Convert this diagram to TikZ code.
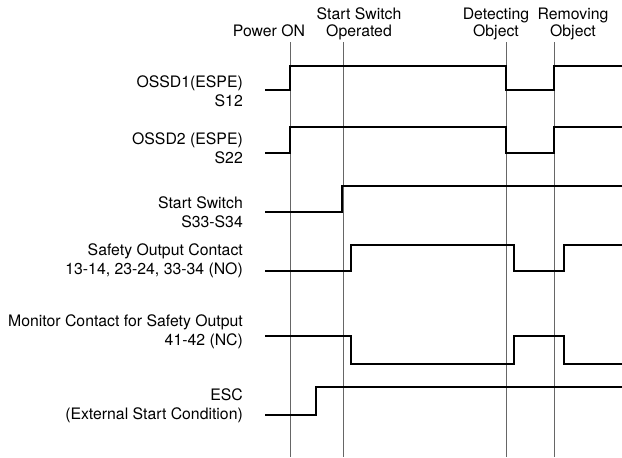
\documentclass[tikz,border=0pt]{standalone}
\usepackage{fontspec}
\setmainfont{TeX Gyre Heros}
\usepackage{tikz}
\usetikzlibrary{positioning,calc}
\tikzset{
  td/label/.style={anchor=east, align=right, inner sep=0pt, font=\fontsize{15.8}{19}\selectfont},
  td/event/.style={align=center, inner sep=0pt, font=\fontsize{15.8}{17}\selectfont},
  td/marker/.style={draw=black!60, line width=0.9pt},
  td/wave/.style={draw=black, line width=2.3pt, line join=miter}
}
\begin{document}
\begin{tikzpicture}[x=1pt, y=-1pt]
  \useasboundingbox (0,0) rectangle (622,458);
  % event markers
  \node[td/event, anchor=base] (pon) at (269,36.7) {Power ON};
  \node[td/event, anchor=base] (swop) at (359,36.7) {Start Switch\\Operated};
  \node[td/event, anchor=base] (det) at (496,36.7) {Detecting\\Object};
  \node[td/event, anchor=base] (rem) at (573,36.7) {Removing\\Object};
  \coordinate (tPon) at (290,42);  \coordinate (bPon) at (290,457);
  \coordinate (tSw) at (343,42);   \coordinate (bSw) at (343,457);
  \coordinate (tDet) at (506,42);  \coordinate (bDet) at (506,457);
  \coordinate (tRem) at (554,42);  \coordinate (bRem) at (554,457);
  \draw[td/marker] (tPon) -- (bPon);
  \draw[td/marker] (tSw) -- (bSw);
  \draw[td/marker] (tDet) -- (bDet);
  \draw[td/marker] (tRem) -- (bRem);
  % signal names
  \node[td/label] (ossdA) at (243,91.2) {OSSD1(ESPE)\\S12};
  \node[td/label] (ossdB) at (243,148) {OSSD2 (ESPE)\\S22};
  \node[td/label] (startsw) at (243,212.5) {Start Switch\\S33-S34};
  \node[td/label] (safety) at (243,261) {Safety Output Contact\\13-14, 23-24, 33-34 (NO)};
  \node[td/label] (monitor) at (243,331.7) {Monitor Contact for Safety Output\\41-42 (NC)};
  \node[td/label] (esc) at (243,405.9) {ESC\\(External Start Condition)};
  % waveforms
  \draw[td/wave] (265,90) -| (290,66) -| (506,90) -| (554,66) -- (622,66);
  \draw[td/wave] (265,153) -| (290,127) -| (506,153) -| (554,127) -- (622,127);
  \draw[td/wave] (265,212) -| (342,186) -- (622,186);
  \draw[td/wave] (265,271) -| (351,245) -| (514,271) -| (564,245) -- (622,245);
  \draw[td/wave] (265,336) -| (351,364) -| (514,336) -| (564,364) -- (622,364);
  \draw[td/wave] (265,415) -| (316,387) -- (622,387);
\end{tikzpicture}
\end{document}
